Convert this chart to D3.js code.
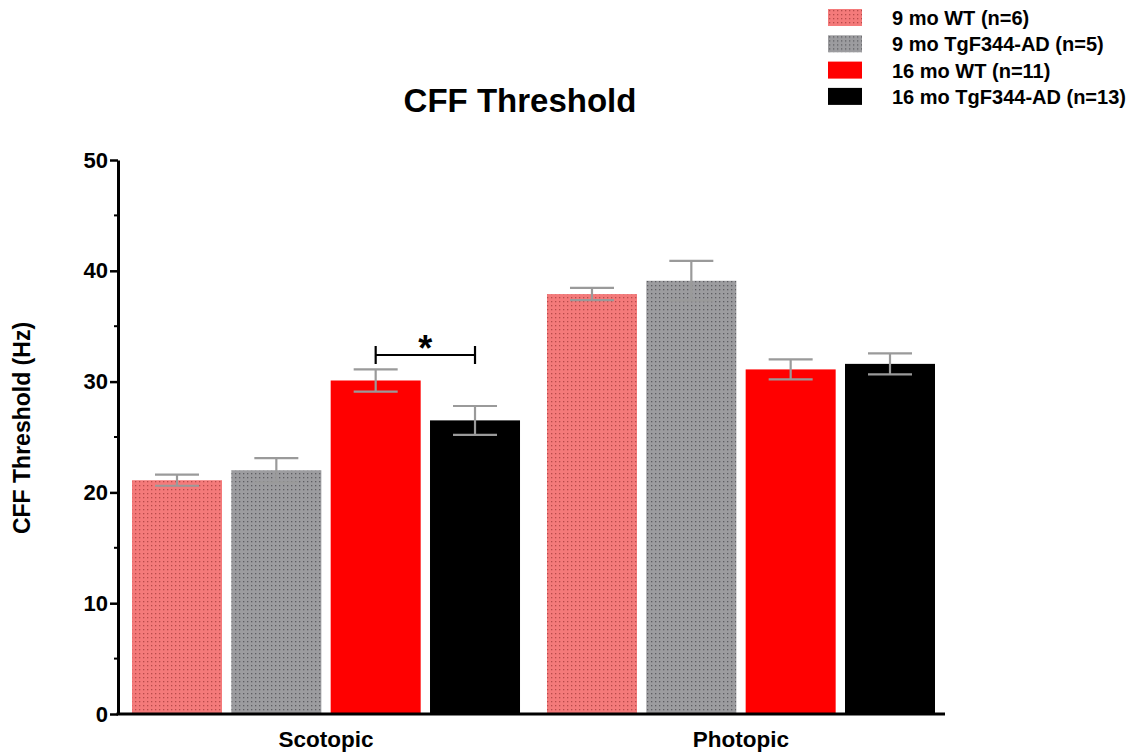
<!DOCTYPE html>
<html>
<head>
<meta charset="utf-8">
<script src="https://cdn.jsdelivr.net/npm/d3@7"></script>
<style>
  body { margin: 0; background: #fff; }
  text { font-family: "Liberation Sans", Arial, Helvetica, sans-serif; font-weight: bold; }
</style>
</head>
<body>
<div id="chart"></div>
<script>
// data
var conditions = ["Scotopic", "Photopic"];
var groups = ["9 mo WT (n=6)", "9 mo TgF344-AD (n=5)", "16 mo WT (n=11)", "16 mo TgF344-AD (n=13)"];
var means = [
  [21.1, 22.0, 30.1, 26.5],   // Scotopic
  [37.9, 39.1, 31.1, 31.6]    // Photopic
];
var sems = [
  [0.5, 1.1, 1.0, 1.3],
  [0.55, 1.8, 0.9, 0.95]
];
var yTicks = [0, 10, 20, 30, 40, 50];

var W = 1142, H = 755;
var margin = { top: 160, left: 118, bottom: 41 },
    plotW = 827,
    plotH = H - margin.top - margin.bottom;

var svg = d3.select("#chart").append("svg")
    .attr("width", W)
    .attr("height", H);

// dotted fills
var defs = svg.append("defs");
function dotPattern(id, bg, dot) {
  var p = defs.append("pattern")
      .attr("id", id)
      .attr("patternUnits", "userSpaceOnUse")
      .attr("width", 4).attr("height", 4);
  p.append("rect").attr("width", 4).attr("height", 4).attr("fill", bg);
  p.append("rect").attr("x", 1).attr("y", 1).attr("width", 1.3).attr("height", 1.3).attr("fill", dot);
}
dotPattern("dotRed", "#f47a7a", "#b84a4a");
dotPattern("dotGray", "#9c9c9f", "#5e5e62");

var fills = ["url(#dotRed)", "url(#dotGray)", "#ff0000", "#000000"];

var g = svg.append("g").attr("transform", "translate(" + margin.left + "," + margin.top + ")");

var x0 = d3.scaleBand().domain(conditions).range([14, 817]).paddingInner(0.065).paddingOuter(0);
var x1 = d3.scaleBand().domain(d3.range(groups.length)).range([0, x0.bandwidth()]).paddingInner(0.094);
var y = d3.scaleLinear().domain([0, 50]).range([plotH, 0]);

var data = [];
conditions.forEach(function(c, ci) {
  groups.forEach(function(gr, gi) {
    data.push({ cond: c, gi: gi, v: means[ci][gi], e: sems[ci][gi] });
  });
});

function bx(d) { return x0(d.cond) + x1(d.gi); }

// bars
g.selectAll("rect.bar").data(data).enter().append("rect")
    .attr("class", "bar")
    .attr("x", bx)
    .attr("y", function(d) { return y(d.v); })
    .attr("width", x1.bandwidth())
    .attr("height", function(d) { return y(0) - y(d.v); })
    .attr("fill", function(d) { return fills[d.gi]; });

// error bars
var capW = 44;
var eb = g.selectAll("g.err").data(data).enter().append("g")
    .attr("class", "err")
    .attr("stroke", "#9a9a9a")
    .attr("stroke-width", 2.2);
eb.append("line")
    .attr("x1", function(d) { return bx(d) + x1.bandwidth() / 2; })
    .attr("x2", function(d) { return bx(d) + x1.bandwidth() / 2; })
    .attr("y1", function(d) { return y(d.v + d.e); })
    .attr("y2", function(d) { return y(d.v - d.e); });
eb.append("line")
    .attr("x1", function(d) { return bx(d) + x1.bandwidth() / 2 - capW / 2; })
    .attr("x2", function(d) { return bx(d) + x1.bandwidth() / 2 + capW / 2; })
    .attr("y1", function(d) { return y(d.v + d.e); })
    .attr("y2", function(d) { return y(d.v + d.e); });
eb.append("line")
    .attr("x1", function(d) { return bx(d) + x1.bandwidth() / 2 - capW / 2; })
    .attr("x2", function(d) { return bx(d) + x1.bandwidth() / 2 + capW / 2; })
    .attr("y1", function(d) { return y(d.v - d.e); })
    .attr("y2", function(d) { return y(d.v - d.e); });

// significance bracket between 16 mo groups in scotopic
var sa = bx({ cond: "Scotopic", gi: 2 }) + x1.bandwidth() / 2,
    sb = bx({ cond: "Scotopic", gi: 3 }) + x1.bandwidth() / 2,
    sy = y(32.4);
var br = g.append("g").attr("stroke", "#000").attr("stroke-width", 2.2);
br.append("line").attr("x1", sa).attr("x2", sb).attr("y1", sy).attr("y2", sy);
br.append("line").attr("x1", sa).attr("x2", sa).attr("y1", sy - 9).attr("y2", sy + 9);
br.append("line").attr("x1", sb).attr("x2", sb).attr("y1", sy - 9).attr("y2", sy + 9);
g.append("text")
    .attr("x", (sa + sb) / 2)
    .attr("y", sy + 6)
    .attr("text-anchor", "middle")
    .style("font-size", "36px")
    .text("*");

// y axis
var yAxis = g.append("g")
    .call(d3.axisLeft(y).tickValues(yTicks).tickSize(8).tickSizeOuter(0));
yAxis.select(".domain").attr("stroke-width", 3);
yAxis.selectAll(".tick line").attr("stroke-width", 2.5);
yAxis.selectAll(".tick text")
    .attr("x", -10)
    .style("font-size", "22px")
    .style("font-family", "Liberation Sans, Arial, sans-serif")
    .style("font-weight", "bold")
    .attr("fill", "#000");
// minor ticks
g.append("g").selectAll("line").data([5, 15, 25, 35, 45]).enter().append("line")
    .attr("x1", -4).attr("x2", 0)
    .attr("y1", function(d) { return y(d); })
    .attr("y2", function(d) { return y(d); })
    .attr("stroke", "#000").attr("stroke-width", 2);

// x axis
g.append("line")
    .attr("x1", -1.5).attr("x2", plotW)
    .attr("y1", y(0)).attr("y2", y(0))
    .attr("stroke", "#000").attr("stroke-width", 3);
g.selectAll("text.xl").data(conditions).enter().append("text")
    .attr("class", "xl")
    .attr("x", function(d) { return x0(d) + x0.bandwidth() / 2; })
    .attr("y", plotH + 33)
    .attr("text-anchor", "middle")
    .style("font-size", "22.5px")
    .text(function(d) { return d; });

// y label
svg.append("text")
    .attr("transform", "translate(30,428)rotate(-90)")
    .attr("text-anchor", "middle")
    .style("font-size", "23px")
    .text("CFF Threshold (Hz)");

// title
svg.append("text")
    .attr("x", 520)
    .attr("y", 112)
    .attr("text-anchor", "middle")
    .style("font-size", "33px")
    .text("CFF Threshold");

// legend
var legend = svg.append("g").selectAll("g").data(groups).enter().append("g")
    .attr("transform", function(d, i) { return "translate(828," + (9 + i * 26.3) + ")"; });
legend.append("rect")
    .attr("width", 34).attr("height", 17)
    .attr("fill", function(d, i) { return fills[i]; });
legend.append("text")
    .attr("x", 64)
    .attr("y", 16)
    .style("font-size", "20px")
    .text(function(d) { return d; });
</script>
</body>
</html>
